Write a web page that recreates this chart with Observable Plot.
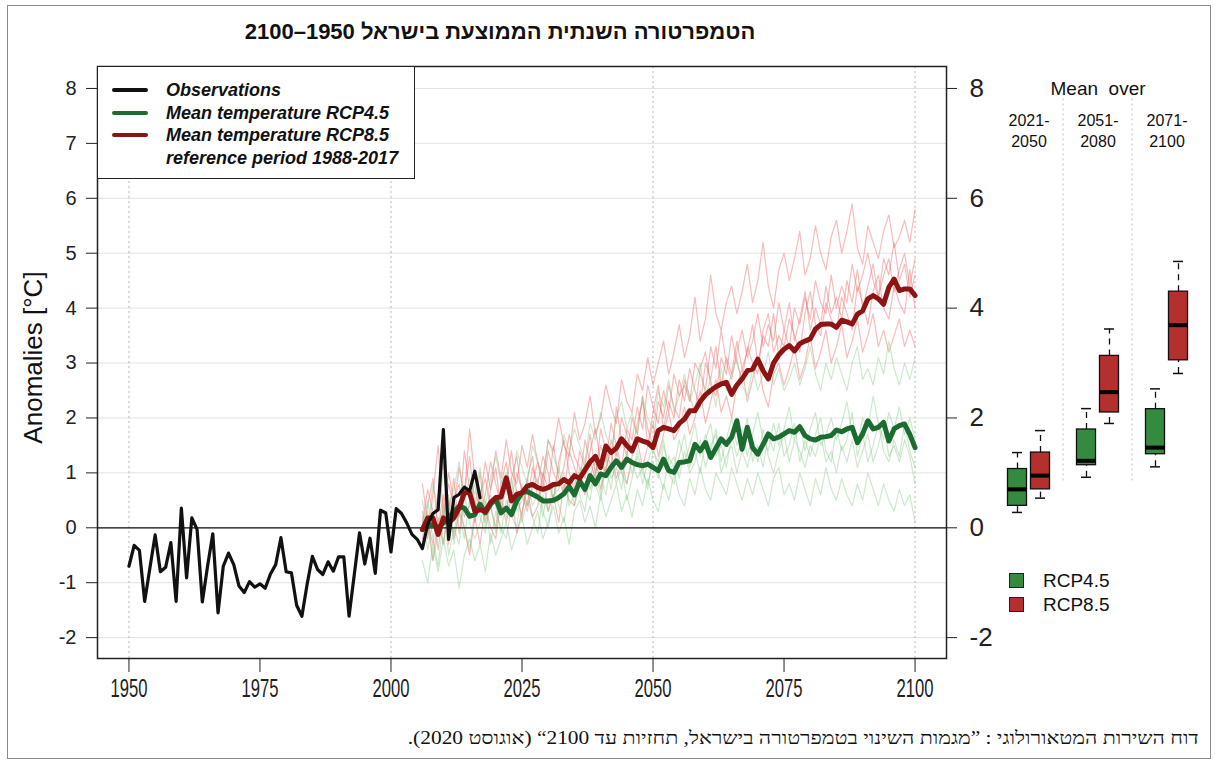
<!DOCTYPE html>
<html lang="he">
<head>
<meta charset="utf-8">
<script src="https://cdn.jsdelivr.net/npm/d3@7"></script>
<script src="https://cdn.jsdelivr.net/npm/@observablehq/plot@0.6"></script>
<style>
  body { margin: 0; background: #fff; }
  #fig { position: relative; width: 1215px; height: 762px; overflow: hidden;
         font-family: "Liberation Sans", Arial, sans-serif; color: #111; }
  #frame { position: absolute; left: 7px; top: 5px; width: 1204px; height: 754px;
           border: 1px solid #8a8a8a; box-sizing: border-box; }
  #title { position: absolute; top: 19px; left: 0; width: 1000px; text-align: center;
           direction: rtl; font-weight: bold; font-size: 22px; }
  #caption { position: absolute; right: 16px; top: 728px; direction: rtl; white-space: nowrap;
             font-family: "Liberation Serif", "Times New Roman", serif; font-size: 18px;
             transform: scaleX(1.19); transform-origin: right center; }
  svg.layer { position: absolute; top: 0; }
  #legend { position: absolute; left: 97px; top: 66px; width: 318px; height: 113px;
            border: 1.5px solid #222; background: #fff; box-sizing: border-box; }
  #legend .row { position: absolute; left: 0; height: 22px; width: 100%;
                 font-weight: bold; font-style: italic; font-size: 18px; line-height: 22px; }
  #legend .sw { position: absolute; left: 14px; top: 9px; width: 36px; height: 4px; border-radius: 2px; }
  #legend .tx { position: absolute; left: 68px; top: 0; white-space: nowrap; }
  #boxkey { position: absolute; left: 1009px; top: 569px; font-size: 19px; }
  #boxkey .row { position: relative; height: 24px; line-height: 24px; }
  #boxkey .sq { position: absolute; left: 0; top: 4px; width: 15px; height: 15px;
                border: 1px solid #222; box-sizing: border-box; }
  #boxkey .tx { position: absolute; left: 34px; top: 0; white-space: nowrap; }
</style>
</head>
<body>
<div id="fig">
  <div id="frame"></div>
  <div id="title">הטמפרטורה השנתית הממוצעת בישראל 1950–2100</div>
  <div id="caption">דוח השירות המטאורולוגי : ”מגמות השינוי בטמפרטורה בישראל, תחזיות עד 2100“ (אוגוסט 2020).</div>
</div>
<script>
// ---- Annual temperature anomalies, °C relative to 1988-2017 ----

// Observed series, 1950-2017
const obsStart = 1950;
const observations = [
  -0.70, -0.32, -0.41, -1.34, -0.73, -0.13, -0.80, -0.72, -0.27, -1.34,
   0.36, -0.91,  0.18, -0.03, -1.35, -0.70, -0.11, -1.55, -0.70, -0.46,
  -0.67, -1.06, -1.18, -0.98, -1.08, -1.02, -1.10, -0.84, -0.67, -0.18,
  -0.80, -0.82, -1.41, -1.61, -1.03, -0.52, -0.76, -0.85, -0.62, -0.79,
  -0.53, -0.53, -1.61, -0.85, -0.09, -0.66, -0.19, -0.83,  0.32,  0.27,
  -0.44,  0.35,  0.26,  0.09, -0.12, -0.21, -0.38,  0.06,  0.26,  0.33,
   1.79, -0.21,  0.55,  0.61,  0.74,  0.67,  1.03,  0.55
];

// Projections, 2006-2100
const projStart = 2006;

// Ensemble mean, RCP8.5
const meanRcp85 = [
  -0.03, 0.18, 0.18, -0.12, 0.18, 0.09, 0.18, 0.36, 0.64, 0.64,
   0.30, 0.33, 0.30, 0.46, 0.55, 0.56, 0.91, 0.49, 0.61, 0.64,
   0.76, 0.79, 0.73, 0.70, 0.73, 0.79, 0.80, 0.88, 0.82, 0.95,
   0.90, 1.05, 1.20, 1.30, 1.10, 1.49, 1.37, 1.45, 1.62, 1.50,
   1.40, 1.62, 1.58, 1.55, 1.46, 1.77, 1.83, 1.80, 1.77, 1.90,
   1.98, 2.13, 2.13, 2.30, 2.42, 2.50, 2.57, 2.62, 2.65, 2.43,
   2.60, 2.71, 2.86, 2.89, 3.07, 2.86, 2.71, 3.00, 3.15, 3.25,
   3.32, 3.22, 3.35, 3.40, 3.44, 3.62, 3.70, 3.71, 3.71, 3.65,
   3.78, 3.75, 3.71, 3.89, 3.95, 4.17, 4.23, 4.17, 4.07, 4.38,
   4.53, 4.32, 4.35, 4.35, 4.23
];

// Ensemble mean, RCP4.5
const meanRcp45 = [
  -0.03, 0.03, 0.06, 0.00, 0.09, 0.18, 0.30, 0.39, 0.36, 0.21,
   0.24, 0.43, 0.27, 0.43, 0.53, 0.27, 0.36, 0.24, 0.49, 0.64,
   0.66, 0.61, 0.56, 0.49, 0.49, 0.50, 0.55, 0.62, 0.75, 0.60,
   0.85, 0.70, 0.95, 0.80, 0.98, 0.95, 1.10, 1.22, 1.10, 1.25,
   1.19, 1.15, 1.13, 1.16, 1.10, 1.04, 1.25, 1.04, 1.01, 1.19,
   1.20, 1.22, 1.52, 1.40, 1.55, 1.28, 1.45, 1.62, 1.52, 1.65,
   1.95, 1.43, 1.83, 1.46, 1.34, 1.52, 1.71, 1.62, 1.65, 1.71,
   1.77, 1.74, 1.84, 1.68, 1.62, 1.60, 1.65, 1.66, 1.68, 1.78,
   1.75, 1.80, 1.83, 1.55, 1.71, 1.95, 1.80, 1.83, 1.92, 1.58,
   1.80, 1.86, 1.89, 1.70, 1.46
];

// Individual model runs, RCP8.5
const rcp85Run1 = [
  0.3, -0.2, 0.6, 1.5, 0.2, 0.8, 0.4, 1.1, 0.6, 1.8,
  0.9, 0.5, 1.2, 0.7, 1.4, 0.9, 1.6, 1.0, 0.8, 1.5,
  1.1, 1.7, 1.2, 0.9, 1.6, 1.4, 2.0, 1.5, 1.3, 2.1,
  1.6, 1.9, 2.4, 1.7, 2.0, 2.6, 2.2, 1.9, 2.7, 2.3,
  2.1, 2.8, 2.5, 3.1, 2.6, 3.0, 3.4, 2.8, 3.2, 3.7,
  3.1, 3.5, 4.2, 3.4, 3.8, 4.6, 3.9, 3.6, 4.1, 4.4,
  3.9, 4.3, 4.8, 4.1, 4.5, 5.2, 4.4, 4.0, 4.7, 5.0,
  4.5, 4.9, 5.4, 4.6, 4.9, 5.5, 5.0, 4.7, 5.3, 5.6,
  5.0, 5.4, 5.9, 5.1, 4.8, 5.5, 5.2, 4.9, 5.4, 5.7,
  5.1, 5.3, 5.6, 5.2, 5.8
];
const rcp85Run2 = [
  -0.4, 0.1, -0.6, 0.2, -0.3, 0.5, -0.2, 0.3, 0.0, -0.5,
  0.2, -0.3, 0.4, 0.0, -0.2, 0.5, 0.1, 0.6, -0.1, 0.3,
  0.7, 0.2, 0.4, 0.9, 0.3, 0.6, 0.1, 0.8, 0.5, 0.4,
  1.0, 0.6, 0.9, 1.3, 0.7, 1.1, 1.4, 0.9, 1.2, 0.8,
  1.3, 1.6, 1.1, 1.5, 1.9, 1.3, 1.7, 2.1, 1.6, 1.8,
  2.2, 1.7, 2.0, 2.5, 1.9, 2.3, 2.7, 2.1, 2.4, 2.0,
  2.6, 2.9, 2.3, 2.7, 3.1, 2.5, 2.2, 2.8, 3.0, 2.6,
  2.9, 3.3, 2.7, 3.0, 3.5, 2.9, 3.2, 3.6, 3.0, 3.3,
  3.7, 3.1, 3.4, 3.8, 3.2, 3.5, 3.9, 3.3, 3.6, 3.2,
  3.5, 3.8, 3.3, 3.6, 3.3
];
const rcp85Run3 = [
  0.8, 0.1, -0.3, 0.5, 1.2, 0.2, 0.9, -0.1, 0.6, 1.3,
  0.4, 1.0, 0.1, 0.7, 1.1, 0.3, 0.8, 1.4, 0.6, 0.2,
  0.9, 1.3, 0.5, 1.0, 0.7, 1.5, 0.9, 0.6, 1.4, 1.1,
  0.8, 1.6, 1.2, 0.9, 1.8, 1.4, 1.1, 2.2, 1.6, 1.3,
  2.0, 1.7, 2.4, 1.5, 2.1, 2.6, 1.8, 2.3, 2.0, 2.7,
  2.3, 2.9, 2.5, 2.2, 3.0, 2.7, 3.3, 2.6, 3.1, 2.8,
  3.4, 2.9, 3.2, 3.7, 3.0, 3.5, 3.3, 3.9, 3.1, 3.6,
  4.1, 3.4, 3.8, 4.3, 3.6, 4.0, 3.7, 4.4, 3.9, 4.2,
  3.8, 4.5, 4.1, 4.7, 4.0, 4.4, 4.8, 4.2, 4.6, 4.9,
  4.3, 4.7, 5.0, 4.4, 4.9
];
const rcp85Run4 = [
  0.1, 0.7, 0.3, -0.4, 0.4, 1.0, 0.5, 0.2, 1.4, 0.7,
  0.1, 0.6, 0.9, 0.4, 0.0, 0.8, 1.2, 0.5, 1.0, 0.7,
  0.4, 1.1, 0.8, 1.3, 1.0, 0.5, 1.2, 1.6, 1.0, 0.7,
  1.4, 1.1, 1.7, 1.0, 1.5, 1.2, 1.9, 1.5, 1.1, 1.8,
  1.6, 2.2, 1.8, 2.6, 2.2, 1.9, 2.5, 2.1, 2.8, 2.4,
  2.6, 2.3, 3.0, 2.8, 2.5, 3.3, 2.9, 3.6, 3.0, 2.7,
  3.2, 3.6, 3.1, 3.4, 3.9, 3.3, 3.7, 3.4, 4.1, 3.6,
  3.3, 4.0, 3.7, 4.2, 3.8, 4.5, 4.1, 3.9, 4.6, 4.0,
  4.4, 4.1, 4.8, 4.3, 4.6, 5.0, 4.5, 4.2, 4.9, 4.6,
  5.2, 4.5, 4.8, 4.2, 4.6
];
const rcp85Run5 = [
  -0.2, 0.4, 0.9, 0.0, 0.6, -0.3, 0.5, 0.8, 0.2, 0.4,
  1.0, 0.3, 0.6, 1.2, 0.8, 0.4, 0.3, 0.9, 1.3, 0.6,
  0.3, 0.8, 1.2, 0.7, 1.4, 1.0, 0.8, 1.1, 1.7, 1.3,
  1.1, 0.9, 1.4, 1.8, 1.2, 1.0, 1.6, 1.3, 2.0, 1.7,
  1.4, 1.9, 2.3, 1.8, 1.5, 2.3, 2.0, 2.6, 2.2, 2.0,
  2.7, 2.4, 2.1, 2.9, 3.2, 2.6, 2.4, 3.1, 2.8, 3.5,
  3.0, 2.7, 3.3, 3.0, 2.8, 3.6, 3.9, 3.2, 3.5, 3.3,
  3.8, 3.5, 3.2, 3.9, 4.3, 3.7, 3.5, 4.1, 3.8, 3.6,
  4.2, 3.9, 3.6, 4.4, 4.1, 3.7, 4.3, 4.6, 4.0, 3.8,
  4.4, 4.1, 3.9, 4.7, 4.0
];

// Individual model runs, RCP4.5
const rcp45Run1 = [
  0.5, -0.1, 0.8, 0.3, 1.0, 0.4, 0.7, 1.2, 0.5, 0.9,
  0.6, 1.1, 0.4, 0.9, 1.3, 0.8, 1.0, 0.6, 1.4, 1.1,
  0.8, 1.5, 1.2, 0.9, 1.6, 1.3, 1.0, 1.7, 1.4, 1.8,
  1.5, 1.2, 1.9, 1.6, 2.1, 1.7, 1.4, 2.0, 2.3, 1.8,
  2.1, 1.7, 2.4, 2.0, 1.8, 2.5, 2.2, 2.7, 2.1, 2.4,
  2.8, 2.3, 2.6, 3.0, 2.4, 2.7, 2.2, 2.9, 2.5, 2.8,
  3.1, 2.6, 2.4, 2.9, 2.5, 2.8, 3.2, 2.6, 2.9, 2.5,
  2.7, 3.0, 2.6, 2.9, 3.3, 2.8, 2.5, 3.0, 2.7, 3.1,
  2.8, 2.5, 3.0, 3.3, 2.7, 2.9, 2.6, 3.1, 2.8, 3.4,
  2.9, 2.6, 3.0, 2.7, 3.1
];
const rcp45Run2 = [
  -0.6, -1.0, -0.3, -0.8, -0.2, -0.7, -0.4, -1.1, -0.5, -0.2,
  -0.6, -0.3, -0.8, -0.1, -0.5, -0.2, 0.1, -0.4, -0.1, 0.2,
  -0.3, 0.0, 0.3, -0.2, 0.1, 0.4, -0.1, 0.2, -0.3, 0.3,
  0.5, 0.1, 0.4, 0.0, 0.6, 0.2, 0.5, 0.8, 0.3, 0.6,
  0.2, 0.7, 0.4, 0.9, 0.5, 0.3, 0.8, 0.5, 1.0, 0.6,
  0.4, 0.9, 0.6, 1.1, 0.7, 0.5, 1.0, 0.8, 0.6, 1.1,
  0.8, 0.5, 0.9, 0.6, 1.0, 0.7, 0.4, 0.9, 1.1, 0.6,
  0.8, 0.5, 1.0, 0.7, 0.4, 0.9, 0.6, 1.1, 0.7, 0.5,
  0.9, 0.6, 0.4, 0.8, 0.5, 1.0, 0.7, 0.4, 0.8, 0.5,
  0.3, 0.7, 0.4, 0.6, 0.1
];
const rcp45Run3 = [
  0.2, -0.4, 0.1, 0.6, -0.3, 0.3, -0.1, 0.5, 0.0, -0.4,
  0.3, 0.7, 0.0, 0.4, -0.1, 0.6, 0.2, 0.9, 0.3, 0.5,
  0.9, 0.4, 0.6, 0.2, 0.8, 0.5, 1.1, 0.6, 0.9, 0.4,
  0.8, 1.2, 0.7, 1.0, 0.6, 1.3, 0.9, 1.1, 0.7, 1.4,
  1.0, 1.3, 0.8, 1.2, 1.5, 1.0, 0.7, 1.3, 1.1, 1.6,
  1.2, 1.5, 1.9, 1.3, 1.7, 1.4, 1.8, 1.2, 1.6, 2.0,
  1.5, 1.8, 1.3, 1.7, 2.1, 1.6, 1.4, 1.9, 1.5, 1.8,
  2.2, 1.6, 1.9, 1.4, 1.8, 2.1, 1.5, 1.7, 2.0, 1.6,
  1.9, 2.3, 1.7, 1.5, 2.0, 1.8, 2.4, 1.9, 1.6, 2.1,
  1.8, 2.2, 1.7, 2.0, 1.6
];
const rcp45Run4 = [
  -0.3, 0.3, -0.6, -0.1, 0.4, -0.5, 0.0, -0.3, 0.6, 0.1,
  -0.2, 0.1, 0.5, -0.3, 0.3, 0.0, -0.2, 0.4, 0.7, 0.1,
  0.5, 0.2, -0.1, 0.6, 0.3, 0.8, 0.4, 0.1, 0.7, 1.0,
  0.6, 0.3, 1.0, 0.8, 0.5, 1.1, 0.7, 1.4, 1.0, 0.8,
  1.2, 0.9, 1.1, 0.7, 1.4, 1.2, 1.6, 1.0, 0.8, 1.3,
  1.7, 1.1, 1.4, 1.0, 1.6, 1.9, 1.3, 1.5, 1.1, 1.7,
  1.3, 1.6, 2.0, 1.2, 1.5, 1.1, 1.7, 1.4, 1.9, 1.3,
  1.5, 1.9, 1.2, 1.6, 1.3, 1.7, 2.0, 1.4, 1.2, 1.8,
  1.4, 1.6, 2.1, 1.3, 1.7, 1.2, 1.5, 1.9, 1.4, 1.2,
  1.6, 1.3, 1.9, 1.4, 1.1
];
const rcp45Run5 = [
  0.0, 0.5, -0.2, -0.7, 0.2, 0.6, -0.3, 0.3, -0.2, 0.5,
  0.8, 0.2, -0.1, 0.6, 0.4, -0.1, 0.5, 0.2, 0.0, 0.8,
  0.4, 0.7, 0.9, 0.3, 0.0, 0.6, 0.7, 1.0, 0.4, 0.6,
  1.1, 0.7, 0.5, 1.2, 0.9, 0.6, 1.2, 0.8, 1.1, 0.5,
  0.9, 1.4, 1.0, 0.8, 1.2, 0.9, 1.5, 1.1, 1.3, 0.9,
  1.4, 1.0, 1.2, 1.6, 1.1, 1.5, 1.7, 1.0, 1.3, 1.5,
  1.0, 1.4, 1.1, 1.5, 1.2, 1.8, 1.3, 1.0, 1.4, 1.7,
  1.2, 1.6, 1.4, 1.1, 1.5, 1.3, 1.7, 1.2, 1.4, 1.0,
  1.5, 1.2, 1.6, 1.1, 1.4, 1.7, 1.2, 1.5, 1.9, 1.3,
  1.5, 1.2, 1.6, 1.3, 0.8
];

// Thirty-year means across the ensemble (box statistics)
const periods   = ["2021-2050", "2051-2080", "2071-2100"];
const boxLo45   = [0.28, 0.92, 1.11];
const boxQ1_45  = [0.40, 1.14, 1.34];
const boxMed45  = [0.70, 1.22, 1.46];
const boxQ3_45  = [1.07, 1.79, 2.16];
const boxHi45   = [1.37, 2.17, 2.53];
const boxLo85   = [0.54, 1.90, 2.81];
const boxQ1_85  = [0.70, 2.10, 3.05];
const boxMed85  = [0.95, 2.47, 3.69];
const boxQ3_85  = [1.37, 3.13, 4.30];
const boxHi85   = [1.77, 3.62, 4.85];

// Axis ticks
const yTicks = [-2, -1, 0, 1, 2, 3, 4, 5, 6, 7, 8];
const yTicksRight = [-2, 0, 2, 4, 6, 8];
const xTicks = [1950, 1975, 2000, 2025, 2050, 2075, 2100];
const xGrid = [1950, 2000, 2050, 2100];

// Colours
const colObs = "#111111";
const col45 = "#1c6b30";
const col85 = "#8e1414";
const colRun45 = "#80c880";
const colRun85 = "#ee6a6a";
const fillBox45 = "#348a3e";
const fillBox85 = "#b3302e";

// ---- Build tidy rows ----
const series = (values, start, extra) =>
  values.map((v, i) => ({year: start + i, value: v, ...extra}));

const obsRows = series(observations, obsStart, {});
const mean45Rows = series(meanRcp45, projStart, {});
const mean85Rows = series(meanRcp85, projStart, {});
const runs85Rows = [rcp85Run1, rcp85Run2, rcp85Run3, rcp85Run4, rcp85Run5]
  .flatMap((r, k) => series(r, projStart, {run: k}));
const runs45Rows = [rcp45Run1, rcp45Run2, rcp45Run3, rcp45Run4, rcp45Run5]
  .flatMap((r, k) => series(r, projStart, {run: k}));

const box45 = periods.map((p, i) => ({period: p, lo: boxLo45[i], q1: boxQ1_45[i], med: boxMed45[i], q3: boxQ3_45[i], hi: boxHi45[i]}));
const box85 = periods.map((p, i) => ({period: p, lo: boxLo85[i], q1: boxQ1_85[i], med: boxMed85[i], q3: boxQ3_85[i], hi: boxHi85[i]}));

const yDomain = [-2.38, 8.4];
const H = 725, mTop = 66, mBottom = 67;
const fontFamily = '"Liberation Sans", Arial, sans-serif';
const asText = d => String(d);

// ---- Time-series panel ----
const main = Plot.plot({
  width: 1215, height: H,
  marginLeft: 97, marginRight: 269, marginTop: mTop, marginBottom: mBottom,
  x: {domain: [1944, 2106]},
  y: {domain: yDomain},
  style: {background: "transparent", color: "#222", fontFamily},
  marks: [
    Plot.gridY(yTicks, {stroke: "#e3e3e3", strokeOpacity: 1}),
    Plot.gridX(xGrid, {stroke: "#b8b8b8", strokeOpacity: 1, strokeDasharray: "2,3"}),
    Plot.line(runs85Rows, {x: "year", y: "value", z: "run", stroke: colRun85, strokeOpacity: 0.45, strokeWidth: 1.2}),
    Plot.line(runs45Rows, {x: "year", y: "value", z: "run", stroke: colRun45, strokeOpacity: 0.4, strokeWidth: 1.2}),
    Plot.ruleY([0], {stroke: "#111", strokeWidth: 1.3}),
    Plot.line(mean45Rows, {x: "year", y: "value", stroke: col45, strokeWidth: 5, strokeLinejoin: "round"}),
    Plot.line(mean85Rows, {x: "year", y: "value", stroke: col85, strokeWidth: 5, strokeLinejoin: "round"}),
    Plot.line(obsRows, {x: "year", y: "value", stroke: colObs, strokeWidth: 3.2, strokeLinejoin: "round"}),
    Plot.frame({stroke: "#222", strokeWidth: 1.5}),
    Plot.axisY(yTicks, {anchor: "left", tickSize: 11, tickPadding: 10, fontSize: 20, tickFormat: asText, label: null}),
    Plot.axisY(yTicksRight, {anchor: "right", tickSize: 10, tickPadding: 13, fontSize: 26, tickFormat: asText, label: null}),
    Plot.axisX(xTicks, {anchor: "bottom", tickSize: 14, tickPadding: 6, fontSize: 26, tickFormat: asText, label: null}),
    Plot.text(["Anomalies [°C]"], {frameAnchor: "left", textAnchor: "middle", rotate: -90, dx: -64, dy: -5, fontSize: 26, fill: "#111"})
  ]
});
main.classList.add("layer");
main.style.left = "0px";
// year labels are set in a condensed width
main.querySelectorAll("text").forEach(t => {
  if (/^\d{4}$/.test(t.textContent.trim())) {
    t.setAttribute("textLength", 37);
    t.setAttribute("lengthAdjust", "spacingAndGlyphs");
  }
});

// ---- Box-plot panel (30-year means) ----
const sepRows = [{period: "2051-2080", top: 7.9, bottom: 0.8}, {period: "2071-2100", top: 7.9, bottom: 0.8}];
const labelRows = periods.map(p => ({period: p, label: p.replace("-", "-\n")}));
const boxMarks = (rows, fill, dx) => [
  Plot.ruleX(rows, {x: "period", y1: "q3", y2: "hi", dx, stroke: "#111", strokeWidth: 1.3, strokeDasharray: "6,5"}),
  Plot.ruleX(rows, {x: "period", y1: "lo", y2: "q1", dx, stroke: "#111", strokeWidth: 1.3, strokeDasharray: "6,5"}),
  Plot.tickY(rows, {x: "period", y: "hi", dx, stroke: "#111", strokeWidth: 1.5, insetLeft: 4.5, insetRight: 4.5}),
  Plot.tickY(rows, {x: "period", y: "lo", dx, stroke: "#111", strokeWidth: 1.5, insetLeft: 4.5, insetRight: 4.5}),
  Plot.barY(rows, {x: "period", y1: "q1", y2: "q3", dx, fill, stroke: "#111", strokeWidth: 1.3}),
  Plot.tickY(rows, {x: "period", y: "med", dx, stroke: "#000", strokeWidth: 4})
];
const boxes = Plot.plot({
  width: 269, height: H,
  marginLeft: 72, marginRight: 38.5, marginTop: mTop, marginBottom: mBottom,
  x: {domain: periods, paddingInner: 0.729, paddingOuter: 0, axis: null},
  y: {domain: yDomain, axis: null},
  style: {background: "transparent", color: "#222", fontFamily, overflow: "visible"},
  marks: [
    Plot.ruleX(sepRows, {x: "period", y1: "top", y2: "bottom", dx: -34.9, stroke: "#c4c4c4", strokeDasharray: "2,3"}),
    ...boxMarks(box45, fillBox45, -11.5),
    ...boxMarks(box85, fillBox85, 11.5),
    Plot.text(["Mean\u00A0 over"], {x: () => "2051-2080", y: () => 8, fontSize: 19, fill: "#111"}),
    Plot.text(labelRows, {x: "period", y: () => 7.25, text: "label", fontSize: 16, lineHeight: 1.35, fill: "#111"})
  ]
});
boxes.classList.add("layer");
boxes.style.left = "946px";

const fig = document.getElementById("fig");
fig.appendChild(main);
fig.appendChild(boxes);

// ---- Legends ----
const legend = document.createElement("div");
legend.id = "legend";
[
  {label: "Observations", color: colObs},
  {label: "Mean temperature RCP4.5", color: col45},
  {label: "Mean temperature RCP8.5", color: col85},
  {label: "reference period 1988-2017", color: null}
].forEach((d, i) => {
  const row = document.createElement("div");
  row.className = "row";
  row.style.top = (12 + i * 22.5) + "px";
  if (d.color) {
    const sw = document.createElement("div");
    sw.className = "sw";
    sw.style.background = d.color;
    row.appendChild(sw);
  }
  const tx = document.createElement("div");
  tx.className = "tx";
  tx.textContent = d.label;
  row.appendChild(tx);
  legend.appendChild(row);
});
fig.appendChild(legend);

const boxKey = document.createElement("div");
boxKey.id = "boxkey";
[{label: "RCP4.5", color: fillBox45}, {label: "RCP8.5", color: fillBox85}].forEach(d => {
  const row = document.createElement("div");
  row.className = "row";
  const sq = document.createElement("div");
  sq.className = "sq";
  sq.style.background = d.color;
  const tx = document.createElement("div");
  tx.className = "tx";
  tx.textContent = d.label;
  row.appendChild(sq);
  row.appendChild(tx);
  boxKey.appendChild(row);
});
fig.appendChild(boxKey);
</script>
</body>
</html>
